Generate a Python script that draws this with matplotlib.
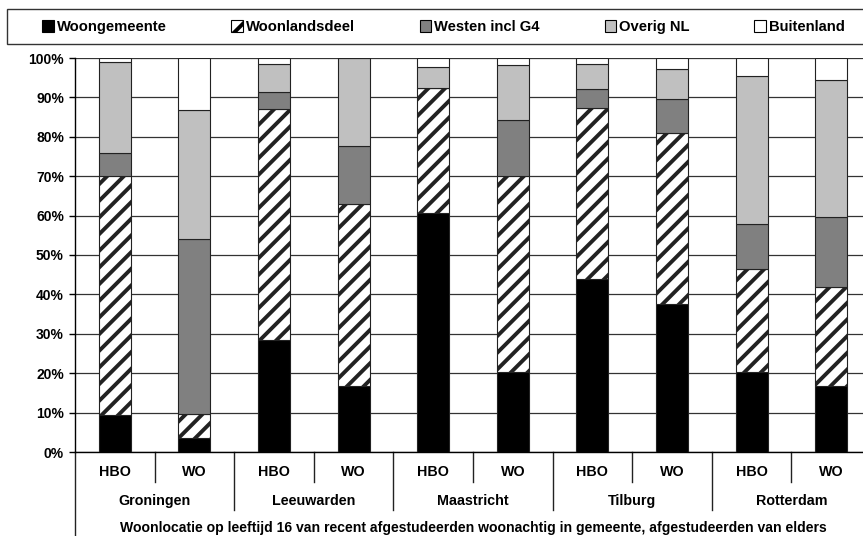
# Woonlocatie op 16 jaar, gestapelde staven per stad en opleiding

import matplotlib.pyplot as plt
import numpy as np
from matplotlib.patches import Patch, Rectangle

steden = ['Groningen', 'Leeuwarden', 'Maastricht', 'Tilburg', 'Rotterdam']
opleidingen = ['HBO', 'WO']
reeksen = ['Woongemeente', 'Woonlandsdeel', 'Westen incl G4', 'Overig NL', 'Buitenland']

# percentages per staaf (HBO, WO per stad)
woongemeente = [9.5, 3.5, 28.4, 16.8, 60.6, 20.3, 43.8, 37.6, 20.4, 16.8]
woonlandsdeel = [60.5, 6.1, 58.6, 46.1, 31.7, 49.8, 43.4, 43.4, 26.0, 25.0]
westen = [6.0, 44.5, 4.4, 14.8, 0.0, 14.2, 4.9, 8.6, 11.4, 17.9]
overig = [22.9, 32.8, 7.0, 22.3, 5.5, 13.9, 6.3, 7.7, 37.7, 34.7]
buitenland = [1.1, 13.1, 1.6, 0.0, 2.2, 1.8, 1.6, 2.7, 4.5, 5.6]

xlabel = 'Woonlocatie op leeftijd 16 van recent afgestudeerden woonachtig in gemeente, afgestudeerden van elders'

plt.rcParams['font.family'] = ['Liberation Sans', 'DejaVu Sans']
plt.rcParams['font.weight'] = 'bold'
plt.rcParams['hatch.linewidth'] = 2.8
plt.rcParams['hatch.color'] = 'black'

W, H = 863, 536
fig = plt.figure(figsize=(W / 100, H / 100), dpi=100)
# assen lopen rechts iets buiten het beeld (zoals in het origineel)
ax = fig.add_axes([75 / W, (H - 452) / H, 796 / W, 394 / H])

data = [woongemeente, woonlandsdeel, westen, overig, buitenland]
kleuren = ['black', 'white', '#808080', '#c0c0c0', 'white']
arceringen = [None, '//', None, None, None]

x = np.arange(len(woongemeente))
onder = np.zeros(len(x))
for waarden, kleur, arc in zip(data, kleuren, arceringen):
    ax.bar(x, waarden, width=0.4, bottom=onder, color=kleur, hatch=arc,
           edgecolor='#222222', linewidth=0.8, zorder=3)
    onder += np.array(waarden)

ax.set_xlim(-0.5, len(x) - 0.5)
ax.set_ylim(0, 100)
ax.set_yticks(range(0, 101, 10))
ax.set_yticklabels([f'{v}%' for v in range(0, 101, 10)], fontsize=10, fontweight='bold')
ax.tick_params(axis='y', direction='out', length=4, width=1, pad=4)
ax.set_xticks([])
ax.grid(axis='y', color='#333333', linewidth=0.9, zorder=0)
for s in ['top', 'right']:
    ax.spines[s].set_visible(False)
ax.spines['left'].set_linewidth(1)
ax.spines['bottom'].set_linewidth(1)

# labels en scheidingslijnen onder de as
tr = ax.get_xaxis_transform()
for i in range(len(x)):
    ax.text(i, -0.052, opleidingen[i % 2], transform=tr, ha='center', va='center',
            fontsize=10.3, fontweight='bold')
for j, stad in enumerate(steden):
    ax.text(2 * j + 0.5, -0.125, stad, transform=tr, ha='center', va='center',
            fontsize=10.3, fontweight='bold')
    ax.plot([2 * j + 0.5] * 2, [0, -0.076], transform=tr, color='#222222',
            linewidth=1, clip_on=False)
    if j > 0:
        ax.plot([2 * j - 0.5] * 2, [0, -0.147], transform=tr, color='#222222',
                linewidth=1, clip_on=False)
ax.plot([-0.5, -0.5], [0, -0.22], transform=tr, color='#222222', linewidth=1, clip_on=False)
ax.text(4.5, -0.193, xlabel, transform=tr, ha='center', va='center',
        fontsize=10.1, fontweight='bold')

# legenda in kader bovenaan
fig.patches.append(Rectangle((7 / W, (H - 44) / H), 875 / W, 35 / H, transform=fig.transFigure,
                             facecolor='white', edgecolor='#333333', linewidth=1))
handles = [Patch(facecolor=k, edgecolor='black', hatch=a, linewidth=0.8)
           for k, a in zip(kleuren, arceringen)]
fig.legend(handles, reeksen, ncol=5, mode='expand', frameon=False, borderpad=0,
           bbox_to_anchor=(42 / W, (H - 34) / H, (845 - 42) / W, 14 / H), loc='lower left',
           handlelength=0.8, handleheight=0.8, handletextpad=0.2, borderaxespad=0,
           prop={'size': 10.6, 'weight': 'bold'})

fig.savefig('out.png', dpi=100)
